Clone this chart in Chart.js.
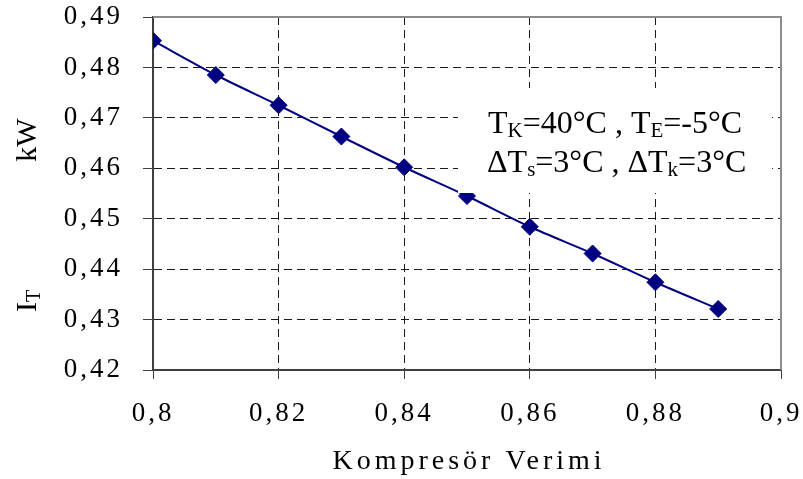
<!DOCTYPE html>
<html>
<head>
<meta charset="utf-8">
<script src="https://cdn.jsdelivr.net/npm/chart.js@4"></script>
<style>
  html, body { margin: 0; padding: 0; background: #fff; }
  #wrap { width: 803px; height: 479px; position: relative; }
</style>
</head>
<body>
<div id="wrap"><canvas id="chart"></canvas></div>
<script>
// ── Data ────────────────────────────────────────────────────────────────
const efficiency = [0.80, 0.81, 0.82, 0.83, 0.84, 0.85, 0.86, 0.87, 0.88, 0.89];
const powerKW    = [0.4853, 0.4785, 0.4725, 0.4663, 0.4602, 0.4545, 0.4484, 0.4431, 0.4374, 0.4321];

const xTicks      = [0.80, 0.82, 0.84, 0.86, 0.88, 0.90];
const xTickLabels = ['0,8', '0,82', '0,84', '0,86', '0,88', '0,9'];
const yTicks      = [0.42, 0.43, 0.44, 0.45, 0.46, 0.47, 0.48, 0.49];
const yTickLabels = ['0,42', '0,43', '0,44', '0,45', '0,46', '0,47', '0,48', '0,49'];

// ── Style ───────────────────────────────────────────────────────────────
const NAVY  = '#000080';
const GRID  = '#1a1a1a';
const AXIS  = '#404040';
const FRAME = '#8c8c8c';
const SERIF = '"Liberation Serif", "Times New Roman", serif';

// draws text with a subscript part, returns end x
function subText(ctx, parts, x, y, size, subSize) {
  parts.forEach(([txt, sub]) => {
    ctx.font = `${sub ? subSize : size}px ${SERIF}`;
    ctx.fillText(txt, x, y + (sub ? size * 0.14 : 0));
    x += ctx.measureText(txt).width;
  });
  return x;
}

const decor = {
  id: 'decor',
  beforeDraw(chart) {
    chart.ctx.letterSpacing = '3px';
  },
  afterDatasetsDraw(chart) {
    const { ctx, chartArea: a } = chart;
    ctx.save();
    ctx.letterSpacing = '0px';

    // white label box over the plot
    ctx.fillStyle = '#fff';
    ctx.fillRect(458, 88, 314, 105);

    ctx.fillStyle = '#000';
    ctx.textBaseline = 'alphabetic';
    ctx.textAlign = 'left';
    subText(ctx, [['T'], ['K', 1], ['=40°C , T'], ['E', 1], ['=-5°C']], 488, 133, 32, 21);
    subText(ctx, [['ΔT'], ['s', 1], ['=3°C , ΔT'], ['k', 1], ['=3°C']], 487, 172, 32, 21);

    // grey frame top / right
    ctx.strokeStyle = FRAME;
    ctx.lineWidth = 2;
    ctx.beginPath();
    ctx.moveTo(a.left, a.top);
    ctx.lineTo(a.right, a.top);
    ctx.lineTo(a.right, a.bottom);
    ctx.stroke();
    ctx.restore();
  },
  afterDraw(chart) {
    const { ctx, chartArea: a } = chart;
    ctx.save();
    ctx.fillStyle = '#000';

    // x title
    ctx.letterSpacing = '4px';
    ctx.font = `28px ${SERIF}`;
    ctx.textAlign = 'center';
    ctx.textBaseline = 'alphabetic';
    ctx.fillText('Kompresör Verimi', (a.left + a.right) / 2 + 2, 469);

    // y title (rotated)
    ctx.letterSpacing = '0px';
    ctx.translate(36, 0);
    ctx.rotate(-Math.PI / 2);
    ctx.textAlign = 'left';
    ctx.font = `30px ${SERIF}`;
    const kw = ctx.measureText('kW').width;
    ctx.fillText('kW', -140 - kw / 2, 0);
    subText(ctx, [['I'], ['T', 1]], -312, 0, 30, 20);
    ctx.restore();
  },
};

// ── Chart ───────────────────────────────────────────────────────────────
new Chart(document.getElementById('chart'), {
  type: 'line',
  data: {
    datasets: [{
      data: efficiency.map((x, i) => ({ x, y: powerKW[i] })),
      borderColor: NAVY,
      borderWidth: 2,
      backgroundColor: NAVY,
      pointStyle: 'rectRot',
      pointRadius: 8.5,
      pointBorderWidth: 1,
      pointBorderColor: NAVY,
      pointBackgroundColor: NAVY,
      tension: 0.3,
      fill: false,
    }],
  },
  plugins: [decor],
  options: {
    responsive: true,
    maintainAspectRatio: false,
    animation: false,
    layout: { padding: { top: 17, right: 22, left: 0, bottom: 0 } },
    plugins: {
      legend: { display: false },
      tooltip: { enabled: false },
    },
    scales: {
      x: {
        type: 'linear',
        min: 0.8,
        max: 0.9,
        afterBuildTicks: s => { s.ticks = xTicks.map(value => ({ value })); },
        afterFit: s => { s.height = 109; s.paddingLeft = 0; s.paddingRight = 0; },
        grid: {
          color: c => (c.index === 0 || c.index === xTicks.length - 1) ? 'rgba(0,0,0,0)' : GRID,
          tickColor: AXIS,
          tickLength: 9,
          tickBorderDash: [],
          lineWidth: 1,
        },
        border: { display: true, color: AXIS, width: 2, dash: [8, 5] },
        ticks: {
          color: '#000',
          font: { family: SERIF, size: 27 },
          padding: 19,
          maxRotation: 0,
          autoSkip: false,
          callback: (v, i) => xTickLabels[i],
        },
      },
      y: {
        min: 0.42,
        max: 0.49,
        afterBuildTicks: s => { s.ticks = yTicks.map(value => ({ value })); },
        afterFit: s => { s.width = 153; s.paddingTop = 0; s.paddingBottom = 0; },
        grid: {
          color: c => (c.index === 0 || c.index === yTicks.length - 1) ? 'rgba(0,0,0,0)' : GRID,
          tickColor: AXIS,
          tickLength: 10,
          tickBorderDash: [],
          lineWidth: 1,
        },
        border: { display: true, color: AXIS, width: 2, dash: [8, 5] },
        ticks: {
          color: '#000',
          font: { family: SERIF, size: 27 },
          padding: 20,
          autoSkip: false,
          callback: (v, i) => yTickLabels[i],
        },
      },
    },
  },
});
</script>
</body>
</html>
